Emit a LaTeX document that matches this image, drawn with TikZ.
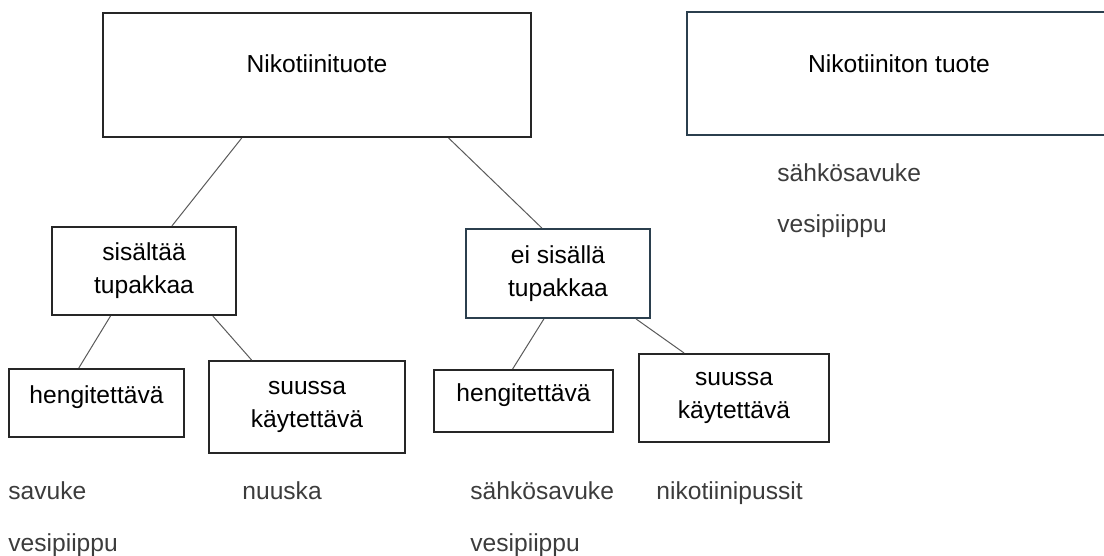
\documentclass[tikz,border=0pt]{standalone}
\usepackage{fontspec}
\setmainfont{Liberation Sans}
\usetikzlibrary{calc}
\definecolor{boxline}{HTML}{262626}
\definecolor{slateline}{HTML}{2B3F4E}
\definecolor{linkgray}{HTML}{5A5A5A}
\definecolor{listtext}{HTML}{3C3C3C}
\begin{document}
\begin{tikzpicture}[x=0.5pt,y=-0.5pt,
  box/.style={draw=boxline,line width=1pt,inner sep=0pt,align=center,
    font=\fontsize{12.3}{16.5}\selectfont},
  onebox/.style={box,text height=8pt,text depth=8pt},
  link/.style={draw=linkgray,line width=0.5pt},
  item/.style={anchor=base west,inner sep=0pt,text=listtext,
    font=\fontsize{12.3}{15}\selectfont}]
\useasboundingbox (0,0) rectangle (1104,556);
\clip (0,0) rectangle (1104,556);
\node[onebox,minimum width=214pt,minimum height=62pt,text depth=10pt] (nic) at (317,75) {Nikotiinituote};
\node[onebox,draw=slateline,minimum width=212pt,minimum height=61.5pt,text depth=9pt] (nonic) at (899,73.5) {Nikotiiniton tuote};
\node[box,minimum width=92pt,minimum height=44pt] (sis) at (144,271) {sisältää\\tupakkaa};
\node[box,draw=slateline,minimum width=92pt,minimum height=44.5pt] (eisis) at (558,273.5) {ei sisällä\\tupakkaa};
\node[onebox,minimum width=87.5pt,minimum height=34pt] (henA) at (96.5,403) {hengitettävä};
\node[box,minimum width=98pt,minimum height=46pt] (suuA) at (307,407) {suussa\\käytettävä};
\node[onebox,minimum width=89.5pt,minimum height=31pt] (henB) at (523.5,401) {hengitettävä};
\node[box,minimum width=95pt,minimum height=44pt] (suuB) at (734,398) {suussa\\käytettävä};
\draw[link] ($(nic.south west)!0.325!(nic.south east)$) -- ($(sis.north west)!0.65!(sis.north east)$);
\draw[link] ($(nic.south west)!0.806!(nic.south east)$) -- ($(eisis.north west)!0.413!(eisis.north east)$);
\draw[link] ($(sis.south west)!0.32!(sis.south east)$) -- ($(henA.north west)!0.4!(henA.north east)$);
\draw[link] ($(sis.south west)!0.87!(sis.south east)$) -- ($(suuA.north west)!0.22!(suuA.north east)$);
\draw[link] ($(eisis.south west)!0.424!(eisis.south east)$) -- ($(henB.north west)!0.44!(henB.north east)$);
\draw[link] ($(eisis.south west)!0.92!(eisis.south east)$) -- ($(suuB.north west)!0.24!(suuB.north east)$);
\node[item] (smR) at (777,182) {sähkösavuke};
\node[item] (vpR) at (777,233) {vesipiippu};
\node[item] (sav) at (8,499) {savuke};
\node[item] (vpA) at (8,551) {vesipiippu};
\node[item] (nuu) at (242,499) {nuuska};
\node[item] (smB) at (470,499) {sähkösavuke};
\node[item] (vpB) at (470,551) {vesipiippu};
\node[item] (pus) at (656,499) {nikotiinipussit};
\end{tikzpicture}
\end{document}
